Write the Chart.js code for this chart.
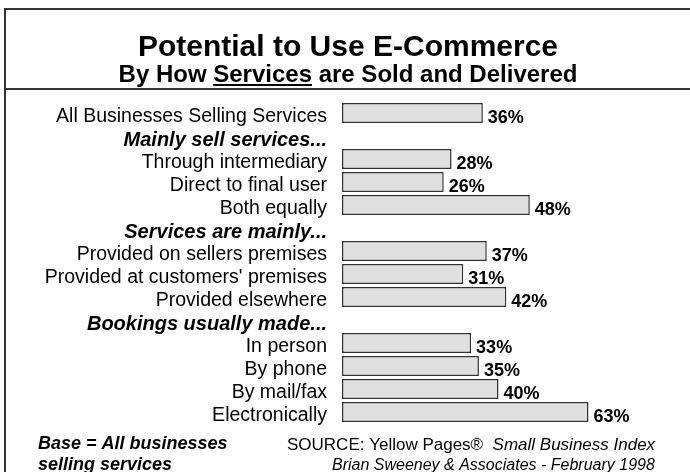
<!DOCTYPE html>
<html>
<head>
<meta charset="utf-8">
<script src="https://cdn.jsdelivr.net/npm/chart.js@4/dist/chart.umd.min.js"></script>
<style>
  html, body { margin: 0; padding: 0; background: #fff; }
  canvas { display: block; }
</style>
</head>
<body>
<canvas id="ecomChart" width="690" height="472"></canvas>
<script>
// rows of the chart; section headings have no value
const categories = [
  'All Businesses Selling Services',
  'Mainly sell services...',
  'Through intermediary',
  'Direct to final user',
  'Both equally',
  'Services are mainly...',
  'Provided on sellers premises',
  "Provided at customers' premises",
  'Provided elsewhere',
  'Bookings usually made...',
  'In person',
  'By phone',
  'By mail/fax',
  'Electronically'
];
const headingRows = [1, 5, 9];
const potential = [36, null, 28, 26, 48, null, 37, 31, 42, null, 33, 35, 40, 63];

const FONT = '"Liberation Sans", Arial, sans-serif';

// frame, titles and footer text
const decorations = {
  id: 'decorations',
  beforeDraw(chart) {
    const ctx = chart.ctx;
    ctx.save();
    ctx.fillStyle = '#fff';
    ctx.fillRect(0, 0, chart.width, chart.height);
    ctx.restore();
  },
  afterDraw(chart) {
    const ctx = chart.ctx;
    ctx.save();
    // frame lines
    ctx.strokeStyle = '#333';
    ctx.lineWidth = 2;
    ctx.beginPath();
    ctx.moveTo(5, 472);
    ctx.lineTo(5, 9);
    ctx.lineTo(690, 9);
    ctx.moveTo(5, 89);
    ctx.lineTo(690, 89);
    ctx.stroke();

    ctx.fillStyle = '#000';
    ctx.textBaseline = 'alphabetic';
    ctx.textAlign = 'center';
    ctx.font = 'bold 30px ' + FONT;
    ctx.fillText('Potential to Use E-Commerce', 348, 56);

    // subtitle with "Services" underlined
    ctx.font = 'bold 24px ' + FONT;
    ctx.textAlign = 'left';
    const parts = ['By How ', 'Services', ' are Sold and Delivered'];
    const widths = parts.map(p => ctx.measureText(p).width);
    let x = 348 - widths.reduce((a, b) => a + b, 0) / 2;
    const base = 82;
    parts.forEach((p, i) => {
      ctx.fillText(p, x, base);
      if (i === 1) {
        ctx.fillRect(x, base + 2, widths[i], 2);
      }
      x += widths[i];
    });

    // footer
    ctx.font = 'italic bold 18px ' + FONT;
    ctx.fillText('Base = All businesses', 38, 449);
    ctx.fillText('selling services', 38, 470);

    ctx.font = '17px ' + FONT;
    const src = 'SOURCE: Yellow Pages\u00AE  ';
    ctx.fillText(src, 287, 450);
    const sw = ctx.measureText(src).width;
    ctx.font = 'italic 17px ' + FONT;
    ctx.fillText('Small Business Index', 287 + sw, 450);

    ctx.font = 'italic 16px ' + FONT;
    ctx.fillText('Brian Sweeney & Associates - February 1998', 332, 470);
    ctx.restore();
  }
};

// percentage labels at the end of each bar
const valueLabels = {
  id: 'valueLabels',
  afterDatasetsDraw(chart) {
    const ctx = chart.ctx;
    const meta = chart.getDatasetMeta(0);
    ctx.save();
    ctx.font = 'bold 18px ' + FONT;
    ctx.fillStyle = '#000';
    ctx.textAlign = 'left';
    ctx.textBaseline = 'middle';
    meta.data.forEach((bar, i) => {
      const v = potential[i];
      if (v == null) return;
      ctx.fillText(v + '%', bar.x + 5, bar.y + 5);
    });
    ctx.restore();
  }
};

new Chart(document.getElementById('ecomChart').getContext('2d'), {
  type: 'bar',
  data: {
    labels: categories,
    datasets: [{
      data: potential,
      backgroundColor: '#e0e0e0',
      borderColor: '#333',
      borderWidth: 1.5,
      borderSkipped: false,
      categoryPercentage: 1,
      barPercentage: 0.87
    }]
  },
  options: {
    indexAxis: 'y',
    responsive: false,
    animation: false,
    layout: { padding: { top: 101.5, bottom: 48.5, left: 0, right: 35 } },
    plugins: {
      legend: { display: false },
      tooltip: { enabled: false }
    },
    scales: {
      x: { display: false, min: 0, max: 80 },
      y: {
        grid: { display: false },
        border: { display: false },
        afterFit(scale) { scale.width = 342; },
        ticks: {
          padding: 7,
          labelOffset: 4,
          color: '#000',
          autoSkip: false,
          font: (c) => headingRows.includes(c.index)
            ? { family: FONT, size: 20, weight: 'bold', style: 'italic' }
            : { family: FONT, size: 19.5 }
        }
      }
    }
  },
  plugins: [decorations, valueLabels]
});
</script>
</body>
</html>
